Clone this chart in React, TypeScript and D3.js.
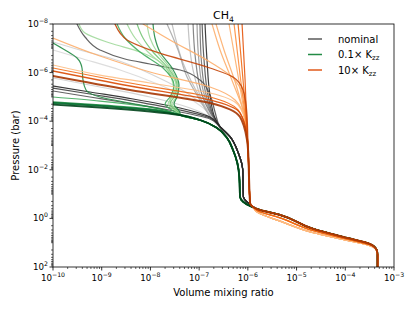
import React from "react";
import * as d3 from "d3";

type Pt = [number, number]; // [volume mixing ratio, pressure (bar)]

// ---------- axis ticks ----------
const xTickExps = [-10, -9, -8, -7, -6, -5, -4, -3];
const yTickExps = [-8, -6, -4, -2, 0, 2];

// ---------- shared deep-atmosphere profiles ----------
const deepDark: Pt[] = [[1.55e-6, 0.41], [4.6e-6, 0.72], [2.2e-5, 2.7], [1.1e-4, 6.4], [3.2e-4, 11.3], [4.4e-4, 20], [4.6e-4, 32], [4.6e-4, 100]];
const deepMid: Pt[] = [[1.55e-6, 0.47], [4.6e-6, 0.95], [2.2e-5, 3.2], [1.1e-4, 7.2], [3.2e-4, 12.2], [4.4e-4, 20], [4.6e-4, 32], [4.6e-4, 100]];
const deepLight: Pt[] = [[1.55e-6, 0.55], [4.6e-6, 1.3], [2.2e-5, 3.9], [1.1e-4, 8.0], [3.2e-4, 13.2], [4.4e-4, 21], [4.6e-4, 32], [4.6e-4, 100]];

// ---------- quench stems ----------
const nominalStem: Pt[] = [[2.69e-7, 1.7e-4], [4.3e-7, 4.35e-4], [6.4e-7, 2.1e-3], [7.85e-7, 1.02e-2], [8.1e-7, 0.128], [9.5e-7, 0.206], [1.22e-6, 0.31]];
const greenStem: Pt[] = [[4.06e-8, 5.56e-5], [1.04e-7, 8.93e-5], [2.33e-7, 1.9e-4], [3.74e-7, 4.9e-4], [4.96e-7, 1.53e-3], [6.08e-7, 5.25e-3], [6.68e-7, 1.98e-2], [6.92e-7, 0.131], [8.1e-7, 0.211], [1.11e-6, 0.309]];
const orangeStem: Pt[] = [[1.01e-6, 1.53e-3], [1.06e-6, 2.63e-2], [1.11e-6, 0.232], [1.28e-6, 0.34]];

// ---------- nominal (grey) upper atmosphere ----------
const nominalUpper: Pt[][] = [
  [[1e-10, 5.5e-8], [3.58e-10, 1.17e-7], [1.48e-9, 2.51e-7], [1.37e-8, 1.52e-6], [6.5e-8, 8.36e-6], [1.52e-7, 3.46e-5]],
  [[1e-10, 1.17e-7], [3.58e-10, 2.51e-7], [2.38e-9, 7.82e-7], [1.57e-8, 3.24e-6], [8.24e-8, 1.62e-5], [1.67e-7, 5.06e-5]],
  [[1e-10, 1.67e-6], [9.2e-10, 3.92e-6], [9.8e-9, 1.01e-5], [6.5e-8, 2.86e-5], [1.67e-7, 6.72e-5]],
  [[2.78e-8, 1e-8], [4.67e-8, 4.03e-7], [1.2e-7, 1.78e-5], [2.02e-7, 9.8e-5]],
  [[5.92e-8, 1e-8], [7.5e-8, 7.82e-7], [1.32e-7, 2.6e-5], [1.93e-7, 8.93e-5]],
  [[2.19e-8, 1e-8], [3.69e-8, 1.17e-7], [5.65e-8, 1.52e-6], [1.04e-7, 1.34e-5], [1.93e-7, 8.93e-5]],
  [[9.05e-8, 1e-8], [9.5e-8, 1.17e-7], [1.2e-7, 5.2e-6], [1.84e-7, 5.56e-5]],
  [[7.5e-8, 1e-8], [8.24e-8, 1.89e-7], [1.15e-7, 8.36e-6], [1.75e-7, 5.06e-5]],
  [[1.04e-7, 1e-8], [1.09e-7, 1.89e-7], [1.32e-7, 5.2e-6], [1.93e-7, 6.1e-5]],
  [[1.15e-7, 1e-8], [1.26e-7, 3.03e-7], [1.52e-7, 8.36e-6], [2.02e-7, 6.72e-5]],
  [[3.11e-10, 1e-8], [4.54e-10, 3.43e-8], [9.2e-10, 1.17e-7], [3.0e-9, 2.75e-7], [9.8e-9, 4.43e-7], [4.06e-8, 7.82e-7], [1.04e-7, 2.02e-6], [1.67e-7, 8.36e-6], [2.12e-7, 4.18e-5]],
  [[1.32e-7, 1e-8], [1.45e-7, 3.03e-7], [1.67e-7, 8.36e-6], [2.12e-7, 7.38e-5]],
  [[1e-10, 5.72e-6], [5.75e-10, 1.01e-5], [4.4e-9, 1.96e-5], [4.06e-8, 4.18e-5], [1.67e-7, 8.1e-5]],
  [[1e-10, 4.31e-6], [5.75e-10, 7.6e-6], [4.4e-9, 1.48e-5], [4.06e-8, 3.46e-5], [1.67e-7, 7.38e-5]],
  [[1e-10, 3.56e-6], [5.75e-10, 6.28e-6], [4.4e-9, 1.22e-5], [4.06e-8, 2.86e-5], [1.67e-7, 6.72e-5]],
];
const nominalColors = ["#d0d0d0", "#d9d9d9", "#cfcfcf", "#bdbdbd", "#bdbdbd", "#a8a8a8", "#969696", "#7a7a7a", "#737373", "#525252", "#525252", "#2a2a2a", "#525252", "#404040", "#252525"];

// ---------- 0.1 x Kzz (green) upper atmosphere ----------
const greenUpper: Pt[][] = [
  [[3.42e-10, 1e-8], [4.54e-10, 2.34e-8], [1.48e-9, 6.05e-8], [6.1e-9, 1.42e-7], [1.57e-8, 3.66e-7], [2.78e-8, 2.02e-6], [3.05e-8, 6.28e-6], [2.52e-8, 1.34e-5], [3.36e-8, 3.8e-5]],
  [[3.31e-9, 1e-8], [4.83e-9, 3.77e-8], [8.93e-9, 1.42e-7], [2.09e-8, 6.47e-7], [3.36e-8, 3.24e-6], [2.78e-8, 1.01e-5], [2.3e-8, 1.96e-5], [3.52e-8, 4.18e-5]],
  [[8.5e-9, 1e-8], [9.8e-9, 3.77e-8], [1.37e-8, 1.42e-7], [2.52e-8, 6.47e-7], [3.69e-8, 3.24e-6], [3.36e-8, 1.01e-5], [2.78e-8, 1.96e-5], [3.86e-8, 4.18e-5]],
  [[5.31e-9, 1e-8], [7.05e-9, 3.77e-8], [1.13e-8, 1.42e-7], [2.3e-8, 6.47e-7], [3.52e-8, 3.24e-6], [3.05e-8, 1.01e-5], [2.52e-8, 1.96e-5], [3.69e-8, 4.18e-5]],
  [[2.06e-9, 1e-8], [3.0e-9, 3.77e-8], [6.1e-9, 1.42e-7], [1.82e-8, 6.47e-7], [3.05e-8, 3.24e-6], [2.52e-8, 1.01e-5], [2.0e-8, 1.96e-5], [3.2e-8, 4.18e-5]],
  [[1e-10, 1.01e-5], [9.2e-10, 1.48e-5], [9.8e-9, 2.6e-5]],
  [[1.13e-8, 1e-8], [1.24e-8, 3.77e-8], [1.57e-8, 1.42e-7], [2.78e-8, 6.47e-7], [3.86e-8, 3.24e-6], [3.52e-8, 1.01e-5], [3.05e-8, 1.96e-5], [4.06e-8, 4.6e-5]],
  [[1e-10, 6.05e-8], [1.76e-10, 1.17e-7], [3.11e-10, 2.51e-7], [3.94e-10, 6.47e-7], [4.13e-10, 2.02e-6], [4.76e-10, 5.2e-6], [9.2e-10, 1.01e-5], [3.81e-9, 1.78e-5], [2.0e-8, 3.46e-5]],
  [[1e-10, 1.62e-5], [9.2e-10, 2.15e-5], [9.8e-9, 3.15e-5]],
  [[1e-10, 1.78e-5], [9.2e-10, 2.36e-5], [9.8e-9, 3.46e-5]],
  [[1e-10, 2.06e-5], [9.2e-10, 2.73e-5], [9.8e-9, 3.99e-5]],
];
const greenColors = ["#a1d99b", "#a1d99b", "#a1d99b", "#74c476", "#41ab5d", "#41ab5d", "#238b45", "#238b45", "#238b45", "#006d2c", "#00441b"];
const greenWidths = [1.2, 1.2, 1.2, 1.2, 1.2, 1.2, 1.2, 1.2, 1.5, 1.8, 1.8];

// ---------- 10 x Kzz (orange) upper atmosphere ----------
const orangeUpper: Pt[][] = [
  [[4.11e-7, 1e-8], [6.0e-7, 7.82e-7], [8.77e-7, 8.93e-5]],
  [[1.84e-7, 1e-8], [2.69e-7, 1.17e-7], [4.96e-7, 2.68e-6], [7.96e-7, 3.46e-5], [9.6e-7, 3.7e-4]],
  [[2.22e-7, 1e-8], [3.24e-7, 1.17e-7], [5.73e-7, 3.24e-6], [8.35e-7, 5.56e-5]],
  [[7.05e-9, 1e-8], [2.52e-8, 4.55e-8], [1.67e-7, 3.66e-7], [5.46e-7, 2.02e-6], [8.77e-7, 2.15e-5]],
  [[1e-10, 3.77e-8], [9.2e-10, 2.08e-7], [9.8e-9, 9.44e-7], [1.67e-7, 3.92e-6], [5.46e-7, 1.34e-5], [8.77e-7, 8.93e-5]],
  [[1e-10, 4.87e-7], [9.2e-10, 1.26e-6], [9.8e-9, 2.68e-6], [1.67e-7, 6.91e-6], [6.3e-7, 2.15e-5], [9.2e-7, 1.43e-4]],
  [[5.21e-7, 1e-8], [6.92e-7, 1.26e-6], [9.2e-7, 1.43e-4]],
  [[6.3e-7, 1e-8], [7.96e-7, 2.02e-6], [9.6e-7, 2.3e-4]],
  [[1e-10, 6.47e-7], [3.81e-9, 2.68e-6], [1.67e-7, 1.01e-5], [6.3e-7, 3.46e-5], [9.2e-7, 2.3e-4]],
  [[7.6e-7, 1e-8], [8.77e-7, 2.02e-6], [9.6e-7, 2.3e-4]],
  [[1e-10, 8.6e-7], [3.81e-9, 3.56e-6], [1.67e-7, 1.34e-5], [6.92e-7, 4.6e-5], [9.6e-7, 3.7e-4]],
  [[1.87e-9, 1e-8], [2.38e-9, 2.34e-8], [3.31e-9, 4.55e-8], [9.8e-9, 1.17e-7], [1.67e-7, 6.47e-7], [4.96e-7, 1.52e-6], [7.96e-7, 5.2e-6], [9.6e-7, 5.56e-5]],
  [[1e-10, 1.38e-6], [3.81e-9, 5.2e-6], [1.67e-7, 1.78e-5], [6.92e-7, 6.72e-5], [9.6e-7, 5.94e-4]],
];
const orangeDeep = [deepLight, deepLight, deepLight, deepLight, deepLight, deepLight, deepMid, deepMid, deepMid, deepDark, deepDark, deepDark, deepDark];
const orangeColors = ["#fdae6b", "#fdae6b", "#fdae6b", "#fdae6b", "#fdae6b", "#fdbe85", "#fd8d3c", "#f16913", "#f16913", "#e6550d", "#d94801", "#c4460a", "#a63603"];
const orangeWidths = [1.2, 1.2, 1.2, 1.2, 1.2, 1.2, 1.2, 1.2, 1.2, 1.2, 1.3, 1.3, 2.0];

// ---------- legend ----------
const legendLabels = ["nominal", "0.1× K", "10× K"];
const legendSubs = ["", "zz", "zz"];
const legendColors = ["#5a5a5a", "#238b45", "#e05a1a"];

const W = 415, H = 311;
const M = { left: 53, right: 394, top: 24, bottom: 267 };
const FONT = "DejaVu Sans, sans-serif";

export default function App() {
  const x = d3.scaleLog().domain([1e-10, 1e-3]).range([M.left, M.right]);
  const y = d3.scaleLog().domain([1e-8, 1e2]).range([M.top, M.bottom]);
  const line = d3.line<Pt>().x((d) => x(d[0])).y((d) => y(d[1])).curve(d3.curveMonotoneY);

  const minorX: number[] = [];
  for (let e = -10; e < -3; e++) for (let k = 2; k <= 9; k++) minorX.push(k * Math.pow(10, e));
  const minorY: number[] = [];
  for (let e = -8; e < 2; e++) {
    for (let k = 2; k <= 9; k++) minorY.push(k * Math.pow(10, e));
    if (e % 2 !== 0) minorY.push(Math.pow(10, e));
  }

  const sup = (e: number) => (e < 0 ? "\u2212" + Math.abs(e) : String(e));

  return (
    <svg width={W} height={H} style={{ display: "block", position: "absolute", left: 0, top: 0 }} fontFamily={FONT}>
      <rect width={W} height={H} fill="#fff" />
      <defs>
        <clipPath id="plotclip">
          <rect x={M.left} y={M.top} width={M.right - M.left} height={M.bottom - M.top} />
        </clipPath>
      </defs>
      <g clipPath="url(#plotclip)" fill="none" strokeLinejoin="round" strokeLinecap="round">
        {nominalUpper.map((u, i) => (
          <path key={"n" + i} d={line([...u, ...nominalStem, ...deepDark]) || ""} stroke={nominalColors[i]} strokeWidth={1.2} strokeOpacity={0.9} />
        ))}
        {greenUpper.map((u, i) => (
          <path key={"g" + i} d={line([...u, ...greenStem, ...deepDark]) || ""} stroke={greenColors[i]} strokeWidth={greenWidths[i]} strokeOpacity={0.9} />
        ))}
        {orangeUpper.map((u, i) => (
          <path key={"o" + i} d={line([...u, ...orangeStem, ...orangeDeep[i]]) || ""} stroke={orangeColors[i]} strokeWidth={orangeWidths[i]} strokeOpacity={0.9} />
        ))}
      </g>
      {/* ticks */}
      <g stroke="#000" strokeWidth={0.8}>
        {minorX.map((v, i) => (
          <line key={"mx" + i} x1={x(v)} x2={x(v)} y1={M.bottom} y2={M.bottom + 2} strokeWidth={0.6} />
        ))}
        {xTickExps.map((e) => (
          <line key={"Mx" + e} x1={x(Math.pow(10, e))} x2={x(Math.pow(10, e))} y1={M.bottom} y2={M.bottom + 3.5} />
        ))}
        {minorY.map((v, i) => (
          <line key={"my" + i} x1={M.left - 2} x2={M.left} y1={y(v)} y2={y(v)} strokeWidth={0.6} />
        ))}
        {yTickExps.map((e) => (
          <line key={"My" + e} x1={M.left - 3.5} x2={M.left} y1={y(Math.pow(10, e))} y2={y(Math.pow(10, e))} />
        ))}
      </g>
      <rect x={M.left} y={M.top} width={M.right - M.left} height={M.bottom - M.top} fill="none" stroke="#000" strokeWidth={0.8} />
      {/* tick labels */}
      <g fontSize={8.7} fill="#000">
        {xTickExps.map((e) => (
          <text key={"tx" + e} x={x(Math.pow(10, e))} y={281} textAnchor="middle">
            10<tspan dy={-4} fontSize={6.2}>{sup(e)}</tspan>
          </text>
        ))}
        {yTickExps.map((e) => (
          <text key={"ty" + e} x={M.left - 5} y={y(Math.pow(10, e)) + 3} textAnchor="end">
            10<tspan dy={-4} fontSize={6.2}>{sup(e)}</tspan>
          </text>
        ))}
      </g>
      {/* axis labels & title */}
      <text x={(M.left + M.right) / 2} y={296} textAnchor="middle" fontSize={10}>Volume mixing ratio</text>
      <text transform={`translate(19,${(M.top + M.bottom) / 2}) rotate(-90)`} textAnchor="middle" fontSize={10}>Pressure (bar)</text>
      <text x={(M.left + M.right) / 2} y={19} textAnchor="middle" fontSize={11}>
        CH<tspan dy={2.5} fontSize={7.7}>4</tspan>
      </text>
      {/* legend */}
      {legendLabels.map((l, i) => (
        <g key={"lg" + i}>
          <line x1={308} x2={322} y1={39 + i * 15.5} y2={39 + i * 15.5} stroke={legendColors[i]} strokeWidth={1.5} />
          <text x={338} y={42.5 + i * 15.5} fontSize={10}>
            {l}
            {legendSubs[i] ? <tspan dy={2} fontSize={7}>{legendSubs[i]}</tspan> : null}
          </text>
        </g>
      ))}
    </svg>
  );
}
